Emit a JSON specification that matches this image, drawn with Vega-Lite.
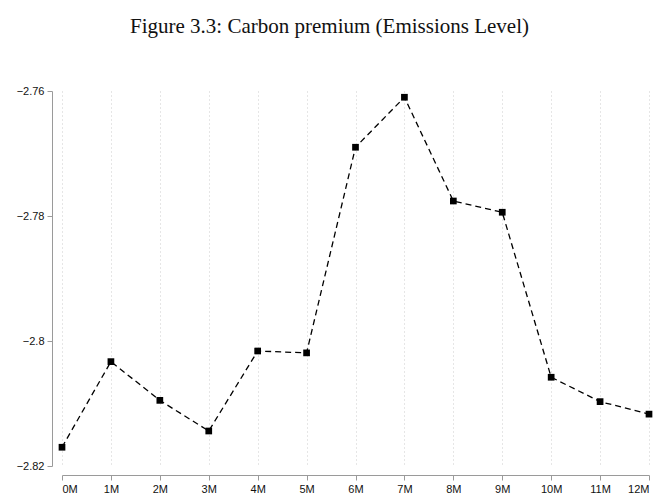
{
  "$schema": "https://vega.github.io/schema/vega-lite/v6.json",
  "width": 587,
  "height": 375,
  "autosize": "none",
  "padding": {"left": 62, "top": 91, "right": 11, "bottom": 30},
  "background": "white",
  "title": {
    "text": "Figure 3.3: Carbon premium (Emissions Level)",
    "font": "Liberation Serif",
    "fontSize": 21,
    "fontWeight": "normal",
    "color": "#111111",
    "anchor": "middle",
    "dx": -26,
    "offset": 48
  },
  "config": {
    "view": {"stroke": null},
    "axis": {
      "labelFont": "Liberation Sans",
      "labelFontSize": 11,
      "labelColor": "#111111",
      "domainColor": "#9a9a9a",
      "tickColor": "#9a9a9a",
      "tickSize": 5,
      "domainWidth": 1,
      "tickWidth": 1
    }
  },
  "data": {
    "values": [
      {"h": 0, "v": -2.8170},
      {"h": 1, "v": -2.8033},
      {"h": 2, "v": -2.8095},
      {"h": 3, "v": -2.8144},
      {"h": 4, "v": -2.8016},
      {"h": 5, "v": -2.8019},
      {"h": 6, "v": -2.7690},
      {"h": 7, "v": -2.7610},
      {"h": 8, "v": -2.7776},
      {"h": 9, "v": -2.7794},
      {"h": 10, "v": -2.8058},
      {"h": 11, "v": -2.8097},
      {"h": 12, "v": -2.8117}
    ]
  },
  "encoding": {
    "x": {
      "field": "h",
      "type": "quantitative",
      "scale": {"domain": [0, 12], "nice": false, "zero": false},
      "axis": {
        "title": null,
        "values": [0,1,2,3,4,5,6,7,8,9,10,11,12],
        "labelExpr": "datum.value + 'M'",
        "offset": 9,
        "grid": true,
        "gridColor": "#cccccc",
        "gridDash": [1, 3],
        "gridWidth": 1,
        "labelPadding": 3,
        "labelAngle": 0
      }
    },
    "y": {
      "field": "v",
      "type": "quantitative",
      "scale": {"domain": [-2.82, -2.76], "nice": false, "zero": false},
      "axis": {
        "title": null,
        "values": [-2.82, -2.8, -2.78, -2.76],
        "format": ".3~f",
        "offset": 10,
        "grid": false,
        "labelPadding": 3
      }
    }
  },
  "layer": [
    {
      "mark": {"type": "line", "color": "black", "strokeWidth": 1.3, "strokeDash": [6, 4]}
    },
    {
      "mark": {"type": "point", "shape": "square", "filled": true, "color": "black", "size": 45, "opacity": 1}
    }
  ]
}
